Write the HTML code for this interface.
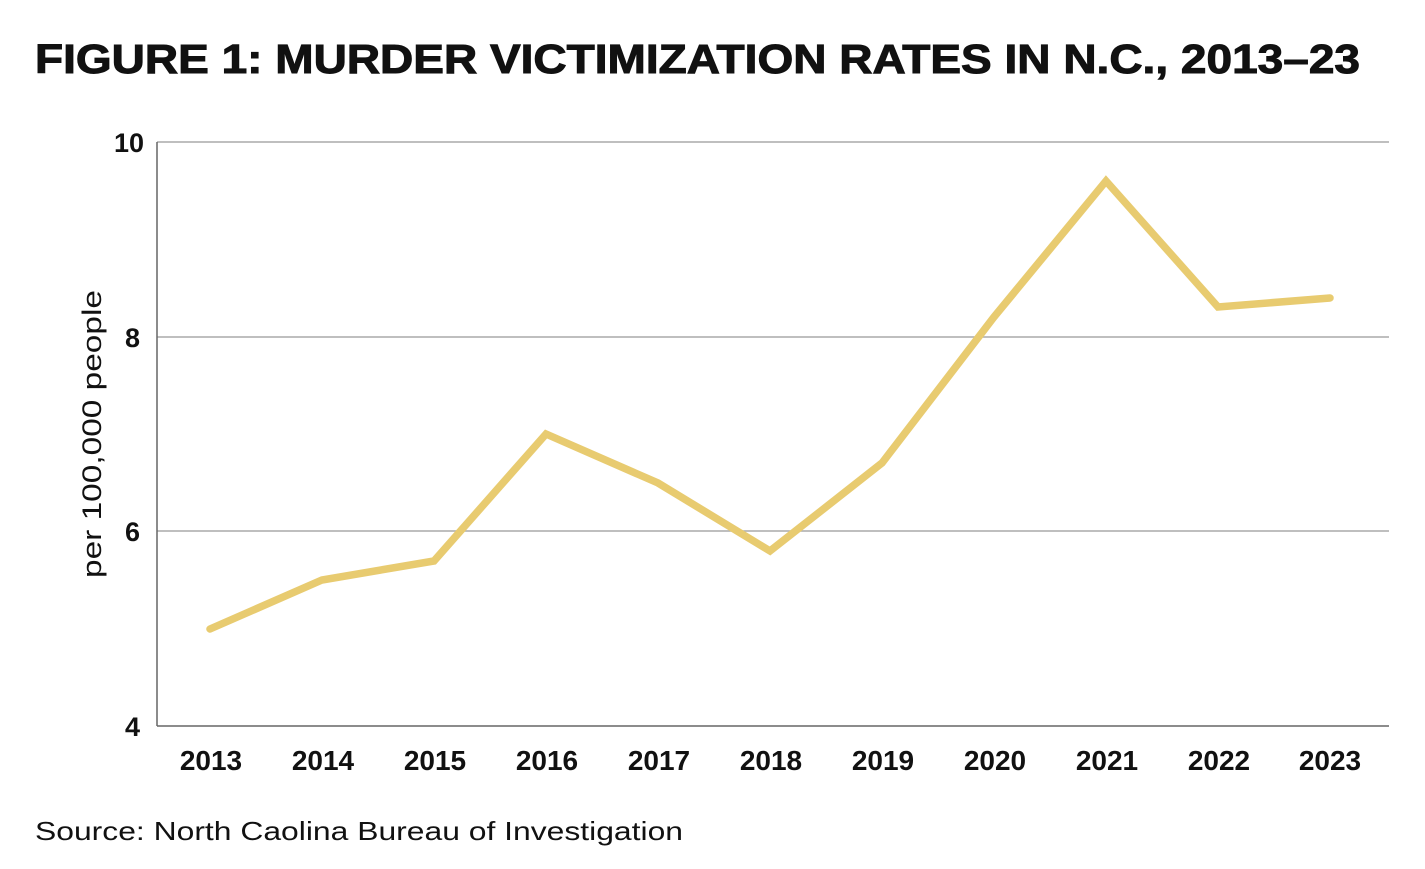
<!DOCTYPE html>
<html><head><meta charset="utf-8"><style>
html,body{margin:0;padding:0;background:#fff;}
svg{display:block;}
text{font-family:"Liberation Sans",sans-serif;fill:#111;}
</style></head><body>
<svg width="1425" height="869" viewBox="0 0 1425 869">
<text x="35" y="73" font-size="41" font-weight="bold" stroke="#111" stroke-width="1" textLength="1325" lengthAdjust="spacingAndGlyphs">FIGURE 1: MURDER VICTIMIZATION RATES IN N.C., 2013–23</text>
<g stroke="#aaa" stroke-width="1.5">
<line x1="157" y1="142" x2="1389" y2="142"/>
<line x1="157" y1="337" x2="1389" y2="337"/>
<line x1="157" y1="531" x2="1389" y2="531"/>
<line x1="157" y1="726" x2="1389" y2="726" stroke="#666"/>
<line x1="157" y1="142" x2="157" y2="726" stroke="#666"/>
</g>
<g font-size="27" font-weight="bold" text-anchor="end">
<text x="144" y="152">10</text>
<text x="140" y="347">8</text>
<text x="140" y="541">6</text>
<text x="140" y="736">4</text>
</g>
<text transform="translate(101,434) rotate(-90)" font-size="27" text-anchor="middle" textLength="288" lengthAdjust="spacingAndGlyphs">per 100,000 people</text>
<g font-size="28" font-weight="bold" text-anchor="middle">
<text x="211" y="770">2013</text><text x="323" y="770">2014</text><text x="435" y="770">2015</text>
<text x="547" y="770">2016</text><text x="659" y="770">2017</text><text x="771" y="770">2018</text>
<text x="883" y="770">2019</text><text x="995" y="770">2020</text><text x="1107" y="770">2021</text>
<text x="1219" y="770">2022</text><text x="1330" y="770">2023</text>
</g>
<polyline fill="none" stroke="#e8cb70" stroke-width="7.5" stroke-linejoin="miter" stroke-linecap="round"
points="210,629 322,580 434,561 546,434 658,483 770,551 882,463 994,317 1106,181 1218,307 1330,298"/>
<text x="35" y="840" font-size="26" textLength="648" lengthAdjust="spacingAndGlyphs">Source: North Caolina Bureau of Investigation</text>
</svg>
</body></html>
